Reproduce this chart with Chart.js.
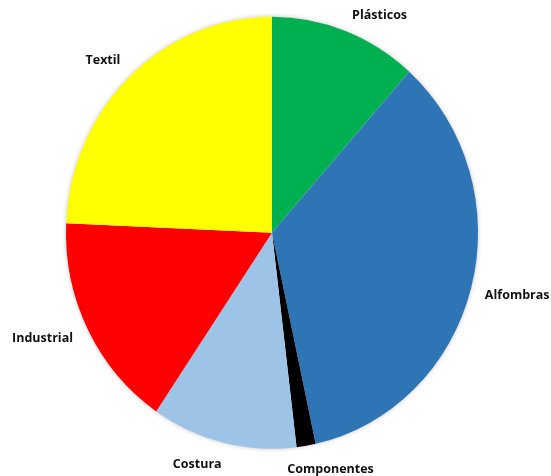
<!DOCTYPE html>
<html>
<head>
<meta charset="utf-8">
<script src="https://cdn.jsdelivr.net/npm/chart.js@4"></script>
<style>
  html, body { margin: 0; padding: 0; background: #fff; }
  canvas { display: block; }
</style>
</head>
<body>
<canvas id="pieChart" width="551" height="476"></canvas>
<script>
const categories = ["Plásticos", "Alfombras", "Componentes", "Costura", "Industrial", "Textil"]
const shares = [11.6, 35.0, 1.5, 11.4, 16.2, 24.3]
const sliceColors = ["#00b050", "#2e75b6", "#000000", "#9dc3e6", "#ff0000", "#ffff00"]

// label placement tweaks: angle nudge (degrees) and extra distance (px)
const labelNudge = [6.5, -1, -5, 5, 3, -2]
const labelPush = [0, -3, 0, 0, 7, 0]
const labelGap = 20
// the pie is drawn slightly taller than wide
const stretchY = 1.0485

const stretch = {
  id: "stretch",
  beforeDraw(chart) {
    chart.ctx.save()
    chart.ctx.scale(1, stretchY)
  },
  afterDraw(chart) {
    chart.ctx.restore()
  },
}

// soft grey halo behind the whole pie
const pieShadow = {
  id: "pieShadow",
  beforeDatasetsDraw(chart) {
    const arc = chart.getDatasetMeta(0).data[0]
    if (!arc) return
    const { x, y, outerRadius } = arc.getProps(["x", "y", "outerRadius"], true)
    const ctx = chart.ctx
    ctx.save()
    ctx.shadowColor = "rgba(0, 0, 0, 0.28)"
    ctx.shadowBlur = 5
    ctx.fillStyle = "#ffffff"
    ctx.beginPath()
    ctx.arc(x, y, outerRadius - 0.5, 0, Math.PI * 2)
    ctx.fill()
    ctx.restore()
  },
}

// category names outside each slice
const outsideLabels = {
  id: "outsideLabels",
  afterDatasetsDraw(chart) {
    const ctx = chart.ctx
    ctx.save()
    ctx.font = "bold 12.5px 'Open Sans'"
    ctx.fillStyle = "#111111"
    ctx.textAlign = "center"
    ctx.textBaseline = "middle"
    chart.getDatasetMeta(0).data.forEach((arc, i) => {
      const p = arc.getProps(["x", "y", "startAngle", "endAngle", "outerRadius"], true)
      const a = (p.startAngle + p.endAngle) / 2 + (labelNudge[i] * Math.PI) / 180
      const dx = Math.cos(a)
      const dy = Math.sin(a)
      const w = ctx.measureText(categories[i]).width
      const h = 14
      const edge = Math.min(
        Math.abs(dx) > 1e-6 ? w / 2 / Math.abs(dx) : Infinity,
        Math.abs(dy) > 1e-6 ? h / 2 / Math.abs(dy) : Infinity
      )
      const d = p.outerRadius + labelGap + labelPush[i] + edge
      ctx.fillText(categories[i], p.x + dx * d, p.y + dy * d)
    })
    ctx.restore()
  },
}

const ctx = document.getElementById("pieChart").getContext("2d")
new Chart(ctx, {
  type: "pie",
  data: {
    labels: categories,
    datasets: [
      {
        data: shares,
        backgroundColor: sliceColors,
        borderWidth: 0,
      },
    ],
  },
  options: {
    responsive: false,
    animation: false,
    layout: {
      padding: { top: 16, bottom: 48, left: 66, right: 73 },
    },
    plugins: {
      legend: { display: false },
      tooltip: { enabled: false },
    },
  },
  plugins: [stretch, pieShadow, outsideLabels],
})
</script>
</body>
</html>
